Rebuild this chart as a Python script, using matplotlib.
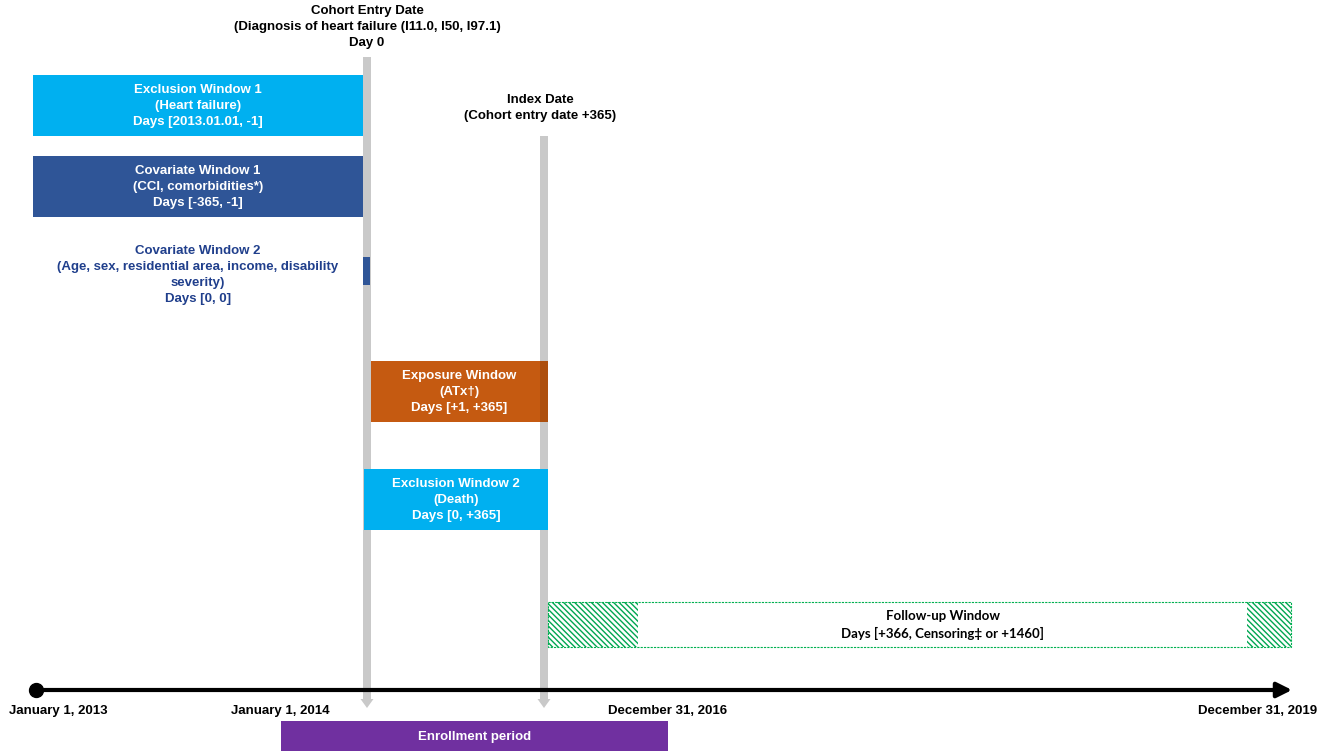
import matplotlib
matplotlib.use("Agg")
import matplotlib.pyplot as plt
from matplotlib.patches import Rectangle, FancyArrow

# ==== data (schematic timeline units) ====
window_labels = [
    "Exclusion Window 1\n(Heart failure)\nDays [2013.01.01, -1]",
    "Covariate Window 1\n(CCI, comorbidities*)\nDays [-365, -1]",
    "Exposure Window\n(ATx\u2020)\nDays [+1, +365]",
    "Exclusion Window 2\n(Death)\nDays [0, +365]",
]
window_start = [33, 33, 371, 364]
window_end = [363, 363, 548, 548]
window_colors = ["#00b0f0", "#2f5597", "#c55a11", "#00b0f0"]
window_rows = [75, 156, 361, 469]

cov2_label = "Covariate Window 2\n(Age, sex, residential area, income, disability\nseverity)\nDays [0, 0]"
followup_label = "Follow-up Window\nDays [+366, Censoring\u2021 or +1460]"
followup_span = [548, 1291]
followup_hatch_ends = [638, 1247]

date_labels = ["January 1, 2013", "January 1, 2014", "December 31, 2016", "December 31, 2019"]
date_pos = [58, 280, 668, 1258]
enroll_span = [281, 668]

cohort_x = 367
index_x = 544

plt.rcParams["font.family"] = ["Liberation Sans", "DejaVu Sans"]

fig = plt.figure(figsize=(13.25, 7.56), dpi=100)
ax = fig.add_axes([0, 0, 1, 1])
ax.set_xlim(0, 1325)
ax.set_ylim(756, 0)
ax.axis("off")

fs = 9.5
ls = 1.45

# grey vertical lines with arrow heads
for x, y0 in [(cohort_x, 57), (index_x, 136)]:
    ax.add_patch(FancyArrow(x, y0, 0, 708 - y0, width=8, head_width=13, head_length=9,
                            length_includes_head=True, color="#c9c9c9", lw=0, zorder=1))

# header texts
ax.text(cohort_x, 27, "Cohort Entry Date\n(Diagnosis of heart failure (I11.0, I50, I97.1)\nDay 0",
        ha="center", va="center", fontsize=fs, fontweight="bold", linespacing=ls)
ax.text(540, 108, "Index Date\n(Cohort entry date +365)",
        ha="center", va="center", fontsize=fs, fontweight="bold", linespacing=ls)

# windows
for lab, s, e, c, y in zip(window_labels, window_start, window_end, window_colors, window_rows):
    ax.add_patch(Rectangle((s, y), e - s, 61, facecolor=c, edgecolor="none", zorder=2))
    ax.text((s + e) / 2, y + 31, lab, ha="center", va="center", color="white",
            fontsize=fs, fontweight="bold", linespacing=ls, zorder=3)

# index line shows through exposure window edge
ax.add_patch(Rectangle((index_x - 4, 361), 8, 61, facecolor="black", alpha=0.12, edgecolor="none", zorder=2.5))

# covariate window 2
ax.add_patch(Rectangle((363, 257), 7, 28, facecolor="#2f5597", edgecolor="none", zorder=2))
ax.text(198, 275, cov2_label, ha="center", va="center", color="#203f8c",
        fontsize=fs, fontweight="bold", linespacing=ls)

# follow-up window
fs0, fs1 = followup_span
h0, h1 = followup_hatch_ends
plt.rcParams["hatch.linewidth"] = 1.0
for a, b in [(fs0, h0), (h1, fs1)]:
    ax.add_patch(Rectangle((a, 602), b - a, 45, facecolor="white", edgecolor="#00a651",
                           lw=0, hatch="\\" * 6, zorder=2))
ax.add_patch(Rectangle((fs0, 602), fs1 - fs0, 45, facecolor="none", edgecolor="#00b050",
                       lw=0.8, ls=(0, (2, 1)), zorder=3))
ax.text((h0 + h1) / 2, 625, followup_label, ha="center", va="center", color="black",
        fontsize=9.5, fontweight="bold", family=["Lato", "DejaVu Sans"], linespacing=1.5, zorder=3)

# timeline
ax.annotate("", xy=(1292, 690), xytext=(36, 690),
            arrowprops=dict(arrowstyle="-|>,head_length=0.9,head_width=0.45", color="black", lw=3,
                            shrinkA=0, shrinkB=0), zorder=4)
ax.plot([36], [690], "o", color="black", ms=10, zorder=5)

for lab, x in zip(date_labels, date_pos):
    ax.text(x, 711, lab, ha="center", va="center", fontsize=fs, fontweight="bold")

# enrollment period
ax.add_patch(Rectangle((enroll_span[0], 721), enroll_span[1] - enroll_span[0], 30,
                       facecolor="#7030a0", edgecolor="none", zorder=2))
ax.text(sum(enroll_span) / 2, 737, "Enrollment period", ha="center", va="center",
        color="white", fontsize=fs, fontweight="bold", zorder=3)

fig.savefig("out.png", dpi=100)
